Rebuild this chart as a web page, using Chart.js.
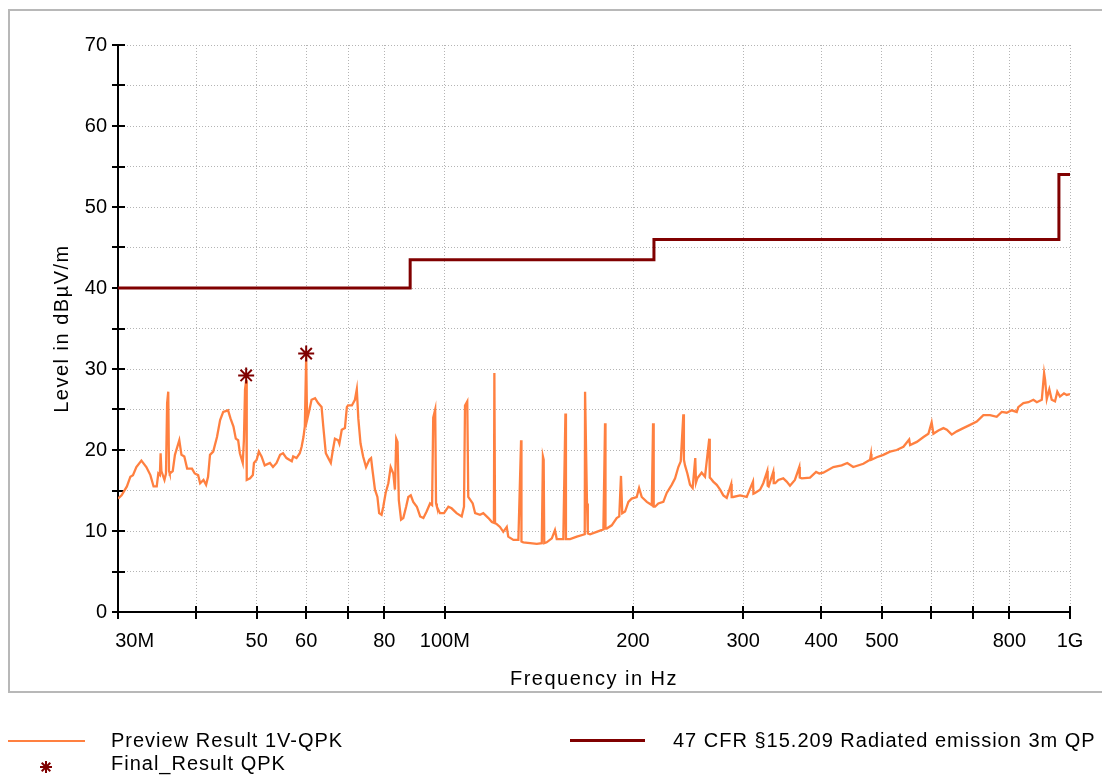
<!DOCTYPE html>
<html>
<head>
<meta charset="utf-8">
<script src="https://cdn.jsdelivr.net/npm/chart.js@4.4.1/dist/chart.umd.min.js"></script>
<style>
html,body{margin:0;padding:0;background:#fff;overflow:hidden;width:1102px;height:776px;}
#frame{position:absolute;left:8px;top:9px;width:1200px;height:684px;border:2px solid #b8b8b8;box-sizing:border-box;}
#wrap{position:absolute;left:0;top:0;width:1102px;height:776px;}
.leg{position:absolute;font-family:"Liberation Sans",Arial,sans-serif;font-size:20px;letter-spacing:1px;color:#000;white-space:nowrap;line-height:24px;}
.sw{position:absolute;}
</style>
</head>
<body>
<div id="frame"></div>
<div id="wrap"><canvas id="c" width="1102" height="776"></canvas></div>

<div class="sw" style="left:8px;top:740px;width:77px;height:2px;background:#FF8040;"></div>
<div class="leg" style="left:111px;top:728px;">Preview Result 1V-QPK</div>
<svg class="sw" style="left:38px;top:759px;" width="16" height="16" viewBox="-8 -8 16 16">
  <g stroke="#800000" stroke-width="2">
    <line x1="0" y1="-6" x2="0" y2="6"/><line x1="-6" y1="0" x2="6" y2="0"/>
    <line x1="-4.3" y1="-4.3" x2="4.3" y2="4.3"/><line x1="-4.3" y1="4.3" x2="4.3" y2="-4.3"/>
  </g>
</svg>
<div class="leg" style="left:111px;top:751px;">Final_Result QPK</div>
<div class="sw" style="left:570px;top:739px;width:75px;height:3px;background:#800000;"></div>
<div class="leg" style="left:673px;top:728px;">47 CFR §15.209 Radiated emission 3m QP</div>

<script>
// ---- tick definitions ----
const xTickValues = [30, 40, 50, 60, 70, 80, 100, 200, 300, 400, 500, 600, 700, 800, 1000];
const xTickLabels = ['30M', '', '50', '60', '', '80', '100M', '200', '300', '400', '500', '', '', '800', '1G'];
const yTickValues = [0, 5, 10, 15, 20, 25, 30, 35, 40, 45, 50, 55, 60, 65, 70];
const yTickLabels = ['0', '', '10', '', '20', '', '30', '', '40', '', '50', '', '60', '', '70'];

// ---- Preview Result 1V-QPK (frequency in MHz, level in dBµV/m) ----
const previewFreq = [
  30.0, 30.4, 31.0, 31.4, 31.7, 32.1, 32.7, 33.3, 33.8, 34.2, 34.6, 34.8, 35.0, 35.1, 35.2, 35.6, 35.8, 35.95, 36.1, 36.2,
  36.3, 36.7, 37.0, 37.6, 37.9, 38.3, 38.7, 39.4, 39.8, 40.3, 40.6, 41.1, 41.5, 41.8, 42.1, 42.6, 43.2, 43.7, 44.2, 45.0,
  45.4, 45.9, 46.3, 46.7, 47.0, 47.5, 47.7, 47.9, 48.1, 48.2, 48.8, 49.3, 49.5, 50.0, 50.4, 50.9, 51.5, 52.5, 53.1, 53.8,
  54.5, 55.1, 55.8, 56.9, 57.2, 57.9, 58.6, 59.0, 59.4, 59.7, 60.0, 60.2, 60.7, 61.2, 62.0, 62.7, 63.5, 63.9, 64.5, 65.1,
  65.7, 66.2, 66.7, 67.5, 67.8, 68.4, 69.2, 69.7, 70.0, 71.0, 71.8, 72.3, 72.7, 73.3, 74.0, 74.8, 75.7, 76.2, 76.6, 77.3,
  78.0, 78.5, 79.2, 79.7, 80.4, 81.2, 81.9, 82.7, 83.2, 83.6, 84.0, 84.4, 85.1, 85.8, 86.7, 87.4, 88.2, 89.0, 90.2, 91.3,
  92.4, 93.5, 94.7, 95.4, 95.8, 96.5, 96.8, 97.1, 98.2, 99.7, 101.3, 102.5, 104.4, 106.4, 107.3, 107.7, 108.6, 109.0, 110.8, 111.8,
  113.8, 115.2, 117.4, 118.9, 119.8, 120.0, 120.3, 120.8, 122.5, 124.0, 125.6, 126.3, 128.7, 131.1, 132.4, 132.6, 133.5, 136.9, 140.3, 142.9,
  143.5, 143.9, 144.2, 145.5, 148.3, 150.0, 151.0, 154.7, 155.9, 156.2, 158.6, 162.6, 167.4, 167.6, 168.8, 169.3, 170.7, 174.9, 179.3, 180.4,
  180.7, 181.5, 184.9, 188.3, 190.1, 191.3, 192.2, 194.2, 196.6, 199.0, 202.7, 204.5, 206.5, 210.4, 214.3, 215.3, 215.8, 216.9, 219.5, 223.6,
  226.4, 230.6, 233.5, 236.3, 238.4, 240.7, 241.2, 242.2, 244.3, 246.7, 249.1, 251.5, 252.2, 253.4, 257.5, 260.7, 264.8, 265.3, 266.1, 268.7,
  272.2, 275.6, 278.9, 282.4, 287.1, 287.6, 289.2, 296.6, 304.0, 311.1, 311.6, 313.4, 319.3, 323.1, 327.9, 328.4, 329.6, 335.2, 335.8, 337.7,
  341.5, 347.8, 352.2, 356.5, 363.0, 369.0, 369.6, 372.3, 383.8, 392.5, 397.2, 403.1, 418.2, 431.3, 440.3, 450.0, 467.1, 478.8, 480.5, 481.3,
  490.7, 502.8, 515.3, 528.2, 541.4, 553.0, 554.9, 568.8, 583.0, 593.6, 600.7, 604.6, 615.8, 627.4, 635.3, 646.9, 659.0, 675.1, 692.1, 709.3,
  726.8, 744.9, 763.4, 777.7, 792.2, 806.8, 821.8, 826.6, 842.2, 857.9, 873.9, 885.0, 901.3, 909.0, 912.3, 918.0, 926.7, 934.9, 946.3, 954.3,
  963.8, 978.1, 987.9, 1000.0
];
const previewLevel = [
  14.0, 14.4, 15.5, 16.7, 16.9, 17.9, 18.7, 17.9, 16.9, 15.5, 15.5, 17.1, 16.9, 19.6, 17.4, 16.3, 17.1, 25.8, 27.2, 17.4,
  17.1, 17.4, 19.4, 21.2, 19.4, 19.2, 17.7, 17.7, 17.1, 16.9, 15.9, 16.3, 15.7, 16.7, 19.4, 19.8, 21.6, 23.7, 24.7, 24.9,
  23.9, 22.9, 21.4, 21.2, 19.6, 18.4, 21.2, 27.5, 28.6, 16.3, 16.5, 16.9, 18.4, 18.8, 19.8, 19.2, 18.1, 18.4, 17.9, 18.4,
  19.4, 19.6, 19.0, 18.6, 19.2, 19.0, 19.6, 20.4, 21.6, 22.9, 31.5, 23.7, 24.9, 26.2, 26.4, 25.8, 25.3, 22.9, 19.6, 19.0,
  18.4, 20.0, 21.4, 21.2, 20.8, 22.5, 22.7, 25.3, 25.5, 25.5, 26.2, 27.5, 23.9, 20.8, 19.2, 17.9, 18.8, 19.0, 17.5, 15.1,
  14.2, 12.2, 12.0, 13.0, 14.7, 15.9, 17.9, 17.1, 15.1, 21.4, 21.0, 13.8, 11.4, 11.6, 13.0, 14.2, 14.4, 13.6, 13.0, 11.8,
  11.6, 12.4, 13.4, 13.2, 24.0, 25.0, 13.4, 13.0, 12.2, 12.2, 13.0, 12.8, 12.2, 11.8, 13.0, 25.5, 26.0, 14.2, 13.4, 12.2,
  12.0, 12.2, 11.6, 11.1, 11.0, 29.5, 11.0, 10.9, 10.5, 9.9, 10.5, 9.3, 8.9, 8.9, 21.2, 8.7, 8.6, 8.5, 8.4, 8.5,
  19.2, 18.8, 8.5, 8.6, 9.1, 10.1, 9.0, 9.0, 24.5, 9.0, 9.0, 9.3, 9.6, 27.2, 13.4, 9.7, 9.6, 9.9, 10.2, 23.3,
  10.3, 10.3, 10.7, 11.6, 11.8, 16.8, 12.2, 12.4, 13.6, 14.0, 14.2, 15.3, 14.2, 13.6, 13.2, 23.3, 13.0, 13.0, 13.4, 13.6,
  14.7, 15.7, 16.5, 17.9, 18.6, 24.4, 18.8, 18.1, 17.1, 15.7, 15.3, 19.0, 16.0, 16.5, 17.2, 16.7, 21.4, 16.6, 16.5, 16.1,
  15.7, 15.1, 14.4, 14.1, 15.8, 14.2, 14.2, 14.4, 14.2, 16.1, 14.6, 14.7, 15.1, 15.9, 17.4, 15.6, 15.5, 17.3, 15.9, 15.9,
  16.3, 16.5, 16.1, 15.6, 16.3, 17.9, 16.6, 16.5, 16.6, 17.3, 17.1, 17.2, 17.9, 18.1, 18.4, 17.9, 18.3, 18.8, 19.5, 18.8,
  19.1, 19.4, 19.8, 20.0, 20.4, 21.3, 20.6, 21.0, 21.6, 22.0, 23.4, 22.0, 22.4, 22.7, 22.5, 21.9, 22.3, 22.7, 23.1, 23.5,
  24.3, 24.3, 24.1, 24.7, 24.6, 24.9, 24.7, 25.3, 25.8, 25.9, 26.2, 25.9, 26.2, 29.5, 28.7, 26.3, 27.5, 26.2, 26.0, 27.2,
  26.6, 27.0, 26.8, 26.9
];

// ---- Final_Result QPK ----
const finalFreq = [48.1, 60.0];
const finalLevel = [29.2, 31.9];

// ---- 47 CFR §15.209 Radiated emission 3m QP limit ----
const limitFreq = [30, 88, 88, 216, 216, 960, 960, 1000];
const limitLevel = [40, 40, 43.5, 43.5, 46, 46, 54, 54];

const FONT = '"Liberation Sans", Arial, sans-serif';
const toXY = (fs, ls) => fs.map((f, i) => ({x: f, y: ls[i]}));

const axisPlugin = {
  id: 'emcAxes',
  afterLayout(chart) {
    ['x', 'y'].forEach(id => {
      const s = chart.scales[id];
      if (s && !s._spacedTitle) {
        const orig = s.drawTitle;
        s.drawTitle = function () {
          this.ctx.save();
          this.ctx.letterSpacing = '1.5px';
          orig.call(this);
          this.ctx.restore();
        };
        s._spacedTitle = true;
      }
    });
  },
  beforeDatasetsDraw(chart) {
    const {ctx, chartArea: a, scales: {x, y}} = chart;
    ctx.save();
    ctx.strokeStyle = '#000';
    ctx.lineWidth = 2;
    ctx.beginPath();
    ctx.moveTo(a.left, a.top);
    ctx.lineTo(a.left, a.bottom);
    ctx.lineTo(a.right, a.bottom);
    yTickValues.forEach(v => {
      const py = Math.round(y.getPixelForValue(v));
      ctx.moveTo(a.left - 6, py);
      ctx.lineTo(a.left + 7, py);
    });
    xTickValues.forEach(v => {
      const px = Math.round(x.getPixelForValue(v));
      ctx.moveTo(px, a.bottom - 6);
      ctx.lineTo(px, a.bottom + 7);
    });
    ctx.stroke();
    ctx.restore();
  }
};

new Chart(document.getElementById('c'), {
  type: 'line',
  data: {
    datasets: [
      {
        label: 'Final_Result QPK',
        data: toXY(finalFreq, finalLevel),
        showLine: false,
        pointStyle: 'star',
        pointRadius: 8,
        pointBorderWidth: 2,
        borderColor: '#800000',
        backgroundColor: '#800000'
      },
      {
        label: '47 CFR §15.209 Radiated emission 3m QP',
        data: toXY(limitFreq, limitLevel),
        borderColor: '#800000',
        borderWidth: 3,
        pointRadius: 0,
        tension: 0,
        fill: false
      },
      {
        label: 'Preview Result 1V-QPK',
        data: toXY(previewFreq, previewLevel),
        borderColor: '#FF8040',
        borderWidth: 2.3,
        pointRadius: 0,
        tension: 0,
        fill: false
      }
    ]
  },
  options: {
    responsive: false,
    animation: false,
    parsing: true,
    layout: {padding: {left: 0, right: 32, top: 45, bottom: 74}},
    plugins: {legend: {display: false}, tooltip: {enabled: false}, title: {display: false}},
    scales: {
      x: {
        type: 'logarithmic',
        min: 30,
        max: 1000,
        afterBuildTicks: s => { s.ticks = xTickValues.map(v => ({value: v})); },
        afterFit: s => { s.height = 90; },
        ticks: {
          autoSkip: false,
          maxRotation: 0,
          minRotation: 0,
          padding: 17,
          color: '#000',
          font: {family: FONT, size: 20},
          callback: (v, i) => (i === 0 ? '      ' : '') + xTickLabels[i]
        },
        grid: {color: '#b4b4b4', lineWidth: 1, drawTicks: false},
        border: {display: false, dash: [1, 2]},
        title: {display: true, text: 'Frequency in Hz', color: '#000', font: {family: FONT, size: 20}, padding: {top: 0, bottom: 11}}
      },
      y: {
        type: 'linear',
        min: 0,
        max: 70,
        afterBuildTicks: s => { s.ticks = yTickValues.map(v => ({value: v})); },
        afterFit: s => { s.width = 118; },
        ticks: {
          padding: 11,
          color: '#000',
          font: {family: FONT, size: 20},
          callback: (v, i) => yTickLabels[i]
        },
        grid: {color: '#b4b4b4', lineWidth: 1, drawTicks: false},
        border: {display: false, dash: [1, 2]},
        title: {display: true, text: 'Level in dBµV/m', color: '#000', font: {family: FONT, size: 20}, padding: {top: 50, bottom: 0}}
      }
    }
  },
  plugins: [axisPlugin]
});
</script>
</body>
</html>
